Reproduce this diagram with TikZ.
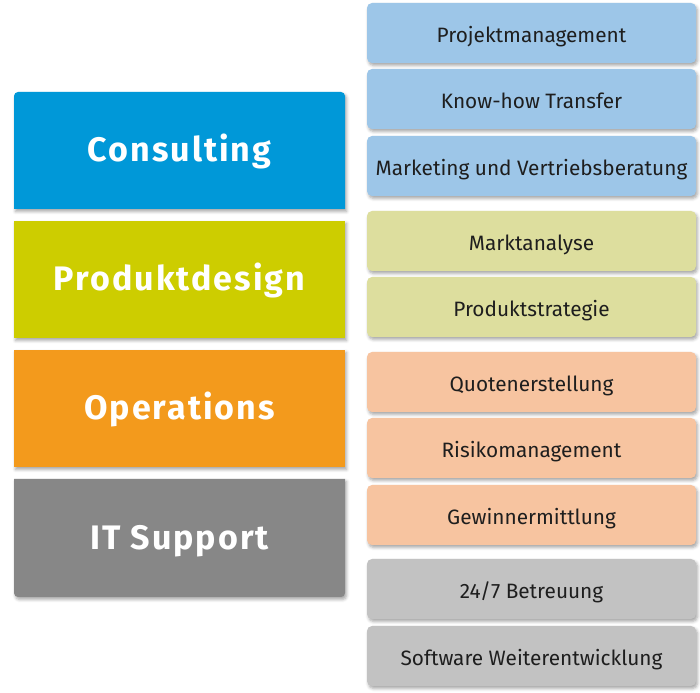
\documentclass[tikz,border=0pt]{standalone}
\usepackage{fontspec}
\setmainfont{Fira Sans}
\usetikzlibrary{shadows.blur}
\definecolor{cBlue}{HTML}{0098D8}
\definecolor{cLime}{HTML}{CDCD00}
\definecolor{cOrange}{HTML}{F39A1C}
\definecolor{cGray}{HTML}{878787}
\definecolor{lBlue}{HTML}{9DC6E8}
\definecolor{lLime}{HTML}{DDDE9E}
\definecolor{lOrange}{HTML}{F7C4A0}
\definecolor{lGray}{HTML}{C2C2C2}
\definecolor{txt}{HTML}{1E1E1E}
\tikzset{
  soft/.style={blur shadow={shadow xshift=1.5pt, shadow yshift=-2.5pt, shadow blur radius=3pt, shadow opacity=35}},
  item/.style={rectangle, rounded corners=5pt, minimum width=329pt, minimum height=60pt,
    inner sep=0pt, text height=21pt, text depth=2pt, soft, text=txt,
    font=\fontsize{20.8}{23}\selectfont},
  head/.style={anchor=base, text=white, font=\fontsize{34}{38}\selectfont\bfseries\addfontfeature{LetterSpace=6}},
}
\begin{document}
\begin{tikzpicture}[x=1pt,y=1pt]
\useasboundingbox (0,0) rectangle (700,692);

% main service areas (left column)
\fill[cBlue, soft] (14,483) -- (14,596) arc[start angle=180, end angle=90, radius=4]
  -- (341,600) arc[start angle=90, end angle=0, radius=4] -- (345,483) -- cycle;
\fill[cLime, soft] (14,354) rectangle (345,471);
\fill[cOrange, soft] (14,225) rectangle (345,342);
\fill[cGray, soft] (14,213) -- (14,99) arc[start angle=180, end angle=270, radius=4]
  -- (341,95) arc[start angle=270, end angle=360, radius=4] -- (345,213) -- cycle;

\node[head] (consulting) at (179.5,530) {Consulting};
\node[head] (design) at (179.5,401) {Produktdesign};
\node[head] (ops) at (179.5,272) {Operations};
\node[head] (it) at (179.5,142) {IT Support};

% individual services (right column)
\node[item, fill=lBlue] (pm) at (531.5,659) {Projektmanagement};
\node[item, fill=lBlue] (kh) at (531.5,593) {Know-how Transfer};
\node[item, fill=lBlue] (mv) at (531.5,526) {Marketing und Vertriebsberatung};
\node[item, fill=lLime] (ma) at (531.5,451) {Marktanalyse};
\node[item, fill=lLime] (ps) at (531.5,385) {Produktstrategie};
\node[item, fill=lOrange] (qe) at (531.5,310) {Quotenerstellung};
\node[item, fill=lOrange] (rm) at (531.5,244) {Risikomanagement};
\node[item, fill=lOrange] (gm) at (531.5,177) {Gewinnermittlung};
\node[item, fill=lGray] (bt) at (531.5,103) {24/7 Betreuung};
\node[item, fill=lGray] (sw) at (531.5,36) {Software Weiterentwicklung};
\end{tikzpicture}
\end{document}
